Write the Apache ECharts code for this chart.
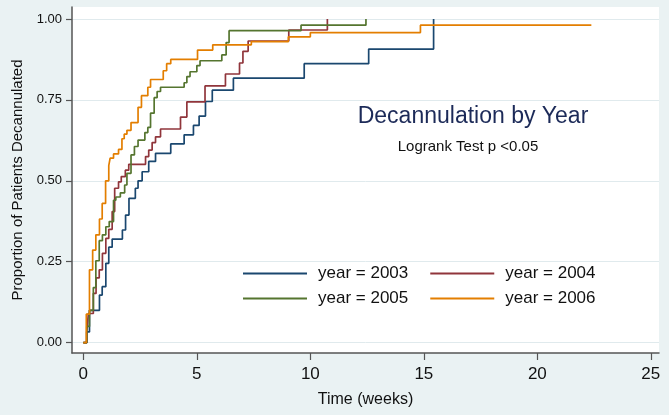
<!DOCTYPE html>
<html>
<head>
<meta charset="utf-8">
<script src="https://cdn.jsdelivr.net/npm/echarts@6/dist/echarts.min.js"></script>
<style>
html,body{margin:0;padding:0;background:#eaf2f3;}
#chart{width:669px;height:415px;}
</style>
</head>
<body>
<div id="chart"></div>
<script>
// Tick labels
var xTicks = [0, 5, 10, 15, 20, 25];
var yTicks = [0, 0.25, 0.5, 0.75, 1];

// Series names
var seriesNames = ['year = 2003', 'year = 2004', 'year = 2005', 'year = 2006'];

// 2003 (times in weeks, proportion decannulated after each step)
var t2003 = [0, 0.15, 0.27, 0.71, 0.83, 0.99, 1.12, 1.27, 1.72, 1.86, 2.01, 2.29, 2.41, 2.59, 2.88, 3.18, 3.85, 4.44, 4.85, 5.10, 5.38, 5.68, 6.61, 9.73, 12.57, 15.43];
var p2003 = [0, 0.033, 0.10, 0.147, 0.173, 0.245, 0.295, 0.32, 0.348, 0.394, 0.446, 0.477, 0.50, 0.528, 0.56, 0.585, 0.614, 0.642, 0.671, 0.700, 0.745, 0.780, 0.817, 0.862, 0.907, 1.0];

// 2004
var t2004 = [0, 0.15, 0.22, 0.44, 0.56, 0.70, 0.84, 0.99, 1.12, 1.27, 1.38, 1.55, 1.67, 1.85, 2.00, 2.74, 2.88, 3.03, 3.18, 3.40, 4.28, 4.56, 5.36, 6.26, 6.88, 7.03, 7.26, 9.05, 10.75];
var p2004 = [0, 0.034, 0.09, 0.152, 0.20, 0.225, 0.276, 0.322, 0.35, 0.405, 0.477, 0.497, 0.513, 0.533, 0.551, 0.575, 0.595, 0.618, 0.636, 0.66, 0.697, 0.744, 0.793, 0.83, 0.864, 0.90, 0.932, 0.966, 1.0];

// 2005
var t2005 = [0, 0.15, 0.27, 0.44, 0.55, 0.70, 0.84, 0.99, 1.14, 1.33, 1.43, 1.63, 1.82, 1.92, 2.10, 2.25, 2.41, 2.71, 2.84, 2.96, 3.12, 3.25, 3.40, 4.44, 4.56, 4.70, 5.00, 5.14, 6.10, 6.29, 6.42, 9.59, 12.45];
var p2005 = [0, 0.05, 0.10, 0.17, 0.253, 0.315, 0.333, 0.358, 0.374, 0.44, 0.45, 0.463, 0.487, 0.523, 0.58, 0.606, 0.626, 0.649, 0.665, 0.709, 0.757, 0.776, 0.789, 0.803, 0.822, 0.837, 0.856, 0.871, 0.889, 0.927, 0.964, 0.981, 1.0];

// 2006
var t2006 = [0, 0.13, 0.27, 0.41, 0.55, 0.71, 0.83, 0.98, 1.12, 1.18, 1.33, 1.55, 1.70, 1.80, 1.92, 2.10, 2.41, 2.56, 2.84, 2.96, 3.52, 3.67, 3.85, 5.03, 5.70, 7.40, 9.03, 10.0, 14.85, 22.38];
var p2006 = [0, 0.088, 0.225, 0.286, 0.333, 0.382, 0.43, 0.50, 0.547, 0.57, 0.583, 0.597, 0.63, 0.644, 0.656, 0.68, 0.727, 0.763, 0.789, 0.813, 0.84, 0.862, 0.875, 0.904, 0.92, 0.93, 0.945, 0.958, 0.981, 0.981];

var colors = ['#1a476f', '#90353b', '#55752f', '#e37e00'];

function pairs(t, p) { return t.map(function (v, i) { return [v, p[i]]; }); }
var allData = [pairs(t2003, p2003), pairs(t2004, p2004), pairs(t2005, p2005), pairs(t2006, p2006)];

var FONT = '"Liberation Sans", Helvetica, Arial, sans-serif';
var chart = echarts.init(document.getElementById('chart'), null, { renderer: 'canvas' });

var legendCommon = {
  orient: 'horizontal',
  left: 238,
  icon: 'rect',
  itemWidth: 64,
  itemHeight: 2,
  itemGap: 22,
  selectedMode: false,
  textStyle: { fontFamily: FONT, fontSize: 17, color: '#111', padding: [0, 0, 0, 6] }
};

var option = {
  animation: false,
  backgroundColor: '#eaf2f3',
  color: colors,
  grid: {
    left: 72, right: 10, top: 7, bottom: 62,
    outerBoundsMode: 'none',
    containLabel: false,
    show: true, backgroundColor: '#ffffff', borderWidth: 0
  },
  legend: [
    Object.assign({}, legendCommon, { top: 260, data: [seriesNames[0], seriesNames[1]] }),
    Object.assign({}, legendCommon, { top: 285, data: [seriesNames[2], seriesNames[3]] })
  ],
  graphic: [
    { type: 'text', x: 473, y: 117, style: { text: 'Decannulation by Year', fontFamily: FONT, fontSize: 23, fill: '#1c2a58', align: 'center', verticalAlign: 'middle' } },
    { type: 'text', x: 468, y: 147, style: { text: 'Logrank Test p <0.05', fontFamily: FONT, fontSize: 15, fill: '#111', align: 'center', verticalAlign: 'middle' } }
  ],
  xAxis: {
    type: 'value',
    min: -0.5,
    max: 25.36,
    name: 'Time (weeks)',
    nameLocation: 'middle',
    nameGap: 39,
    nameTextStyle: { fontFamily: FONT, fontSize: 16, color: '#111' },
    axisLine: { show: true, onZero: false, lineStyle: { color: '#555', width: 1.5 } },
    axisTick: { show: true, length: 7, customValues: xTicks, lineStyle: { color: '#555', width: 1.2 } },
    axisLabel: { customValues: xTicks, fontFamily: FONT, fontSize: 17, color: '#111', margin: 13 },
    splitLine: { show: false }
  },
  yAxis: {
    type: 'value',
    min: -0.032,
    max: 1.037,
    name: 'Proportion of Patients Decannulated',
    nameLocation: 'middle',
    nameGap: 47,
    nameTextStyle: { fontFamily: FONT, fontSize: 15, color: '#111' },
    axisLine: { show: true, onZero: false, lineStyle: { color: '#555', width: 1.5 } },
    axisTick: { show: true, length: 6, customValues: yTicks, lineStyle: { color: '#555', width: 1.2 } },
    axisLabel: { customValues: yTicks, fontFamily: FONT, fontSize: 13, color: '#111', margin: 10,
      formatter: function (v) { return v.toFixed(2); } },
    splitLine: { show: true, lineStyle: { color: '#e0eaed', width: 1 } }
  },
  series: seriesNames.map(function (name, i) {
    return {
      name: name,
      type: 'line',
      step: 'end',
      showSymbol: false,
      symbol: 'none',
      data: allData[i],
      lineStyle: { color: colors[i], width: 1.7 },
      itemStyle: { color: colors[i] }
    };
  })
};
chart.setOption(option);
</script>
</body>
</html>
